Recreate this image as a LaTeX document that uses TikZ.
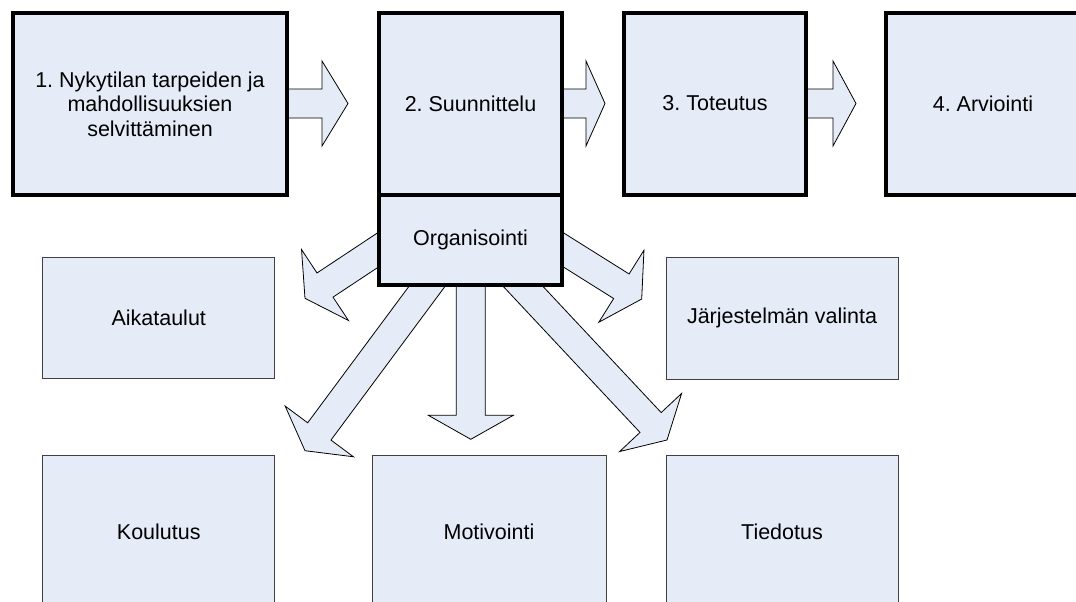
\documentclass[tikz,border=0pt]{standalone}
\usepackage{fontspec}
\setmainfont{Liberation Sans}
\usetikzlibrary{calc}
\frenchspacing
\definecolor{boxfill}{RGB}{230,236,247}
\definecolor{thinline}{RGB}{64,64,64}
\tikzset{
  thickbox/.style={draw=black, line width=4pt, fill=boxfill, inner sep=0pt, align=center},
  thinbox/.style={draw=thinline, line width=1pt, fill=boxfill, inner sep=0pt, align=center},
  barrowstyle/.style={draw=black, line width=0.8pt, fill=boxfill, line join=miter},
  lbl/.style={font=\fontsize{21.5}{24.5}\selectfont, align=center}
}
% block arrow from #2 to tip #3, head length #1
\newcommand\barrow[3][24pt]{%
  \coordinate (hb) at ($(#3)!#1!(#2)$);
  \draw[barrowstyle]
    ($(#2)!14.5pt!90:(#3)$) -- ($(hb)!14.5pt!90:(#3)$) -- ($(hb)!42.5pt!90:(#3)$)
    -- (#3) -- ($(hb)!42.5pt!-90:(#3)$) -- ($(hb)!14.5pt!-90:(#3)$)
    -- ($(#2)!14.5pt!-90:(#3)$) -- cycle;
}
\begin{document}
\begin{tikzpicture}[x=1pt, y=-1pt]
\useasboundingbox (0,0) rectangle (1076,602);
\clip (0,0) rectangle (1076,602);
\fill[white] (0,0) rectangle (1076,602);

% arrow coordinates
\coordinate (t1) at (348,103.5);
\coordinate (t2) at (605,103.5);
\coordinate (t3) at (856,103.5);
\coordinate (sUL) at (426.7,217.7);
\coordinate (tUL) at (305,298.3);
\coordinate (sUR) at (513.2,218.4);
\coordinate (tUR) at (641.7,299);
\coordinate (sC) at (470.8,240);
\coordinate (tC) at (470.8,439.3);
\coordinate (sDL) at (460.5,241.2);
\coordinate (tDL) at (305,450.7);
\coordinate (sDR) at (484.5,245.2);
\coordinate (tDR) at (667,440);

% anchors of the top boxes for horizontal arrows
\coordinate (e1) at (287,103.5);
\coordinate (e2) at (562,103.5);
\coordinate (e3) at (806,103.5);

\barrow[26pt]{e1}{t1}
\barrow[19pt]{e2}{t2}
\barrow[23pt]{e3}{t3}
\barrow{sUL}{tUL}
\barrow{sUR}{tUR}
\barrow{sC}{tC}
\barrow{sDL}{tDL}
\barrow{sDR}{tDR}

% top boxes
\node[thickbox, minimum width=274pt, minimum height=182pt] (b1) at (150,104) {};
\node[lbl] at (150,104) {1. Nykytilan tarpeiden ja\\mahdollisuuksien\\selvittäminen};
\node[thickbox, minimum width=183pt, minimum height=182pt] (b2) at (470.5,104) {};
\node[lbl] at (470.5,103.5) {2. Suunnittelu};
\node[thickbox, minimum width=183pt, minimum height=90pt] (org) at (470.5,240) {};
\node[lbl] at (470.5,240) {Organisointi};
\node[thickbox, minimum width=182pt, minimum height=182pt] (b3) at (715,104) {};
\node[lbl] at (715,103.5) {3. Toteutus};
\node[thickbox, minimum width=196pt, minimum height=182pt] (b4) at (984,104) {};
\node[lbl] at (983,103.5) {4. Arviointi};

% thin boxes
\node[thinbox, lbl, minimum width=232pt, minimum height=121pt] (aika) at (158.75,317.5) {Aikataulut};
\node[thinbox, lbl, minimum width=232pt, minimum height=122pt] (jarj) at (782,318) {Järjestelmän valinta};
\node[thinbox, lbl, minimum width=232pt, minimum height=154pt] (koul) at (158.75,532) {Koulutus};
\node[thinbox, lbl, minimum width=234pt, minimum height=154pt] (moti) at (489,532) {Motivointi};
\node[thinbox, lbl, minimum width=232pt, minimum height=154pt] (tied) at (782,532) {Tiedotus};
\end{tikzpicture}
\end{document}
